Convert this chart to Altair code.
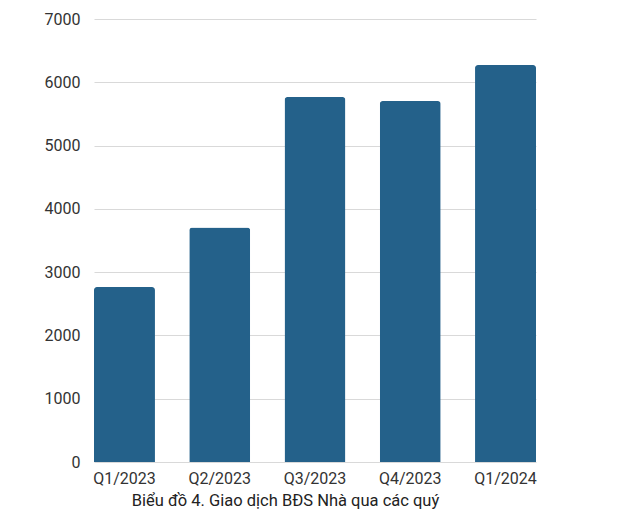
import altair as alt
import pandas as pd

quarters = ["Q1/2023", "Q2/2023", "Q3/2023", "Q4/2023", "Q1/2024"]
values = [2765, 3705, 5766, 5703, 6272]
y_ticks = [0, 1000, 2000, 3000, 4000, 5000, 6000, 7000]
caption = "Biểu đồ 4. Giao dịch BĐS Nhà qua các quý"

df = pd.DataFrame({"q": quarters, "v": values})

FONT = "Roboto"

chart = alt.Chart(df).mark_bar(
    color="#24618a",
    cornerRadiusTopLeft=3,
    cornerRadiusTopRight=3,
).encode(
    x=alt.X(
        "q:N",
        sort=quarters,
        scale=alt.Scale(paddingInner=0.36, paddingOuter=0),
        axis=alt.Axis(
            title=caption,
            labelAngle=0,
            labelFontSize=16,
            labelColor="#333333",
            labelFont=FONT,
            labelPadding=8,
            ticks=False,
            domain=False,
            titleFont=FONT,
            titleFontSize=16.5,
            titleFontWeight="normal",
            titleColor="#222222",
            titleAlign="center",
            titleBaseline="middle",
            titleX=191,
            titleY=38,
        ),
    ),
    y=alt.Y(
        "v:Q",
        scale=alt.Scale(domain=[0, 7000], nice=False),
        axis=alt.Axis(
            title=None,
            values=y_ticks,
            format="d",
            labelFontSize=16,
            labelColor="#333333",
            labelFont=FONT,
            labelPadding=14,
            ticks=False,
            domain=False,
            gridColor="#d9d9d9",
            gridWidth=1,
        ),
    ),
).properties(
    width=442,
    height=443,
    autosize=alt.AutoSizeParams(type="none"),
    padding={"left": 86, "top": 11, "right": 79, "bottom": 51},
    background="white",
).configure_view(stroke=None)

chart.save("out.html", embed_options={"renderer": "svg", "actions": False})
